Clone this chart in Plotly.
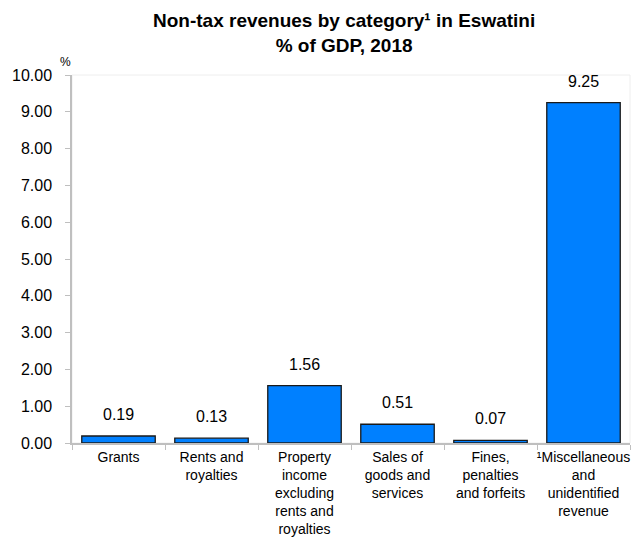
import plotly.graph_objects as go

# Non-tax revenue categories and their share of GDP (%), 2018
categories = [
    "Grants",
    "Rents and<br>royalties",
    "Property<br>income<br>excluding<br>rents and<br>royalties",
    "Sales of<br>goods and<br>services",
    "Fines,<br>penalties<br>and forfeits",
    "¹Miscellaneous<br>and<br>unidentified<br>revenue",
]
values = [0.19, 0.13, 1.56, 0.51, 0.07, 9.25]
y_ticks = [0, 1, 2, 3, 4, 5, 6, 7, 8, 9, 10]

SANS = "Liberation Sans, Arial, sans-serif"

fig = go.Figure(
    go.Bar(
        x=categories,
        y=values,
        marker=dict(color="#0080ff", line=dict(color="#1a1a1a", width=1.3)),
        hoverinfo="skip",
    )
)

# value labels above each bar
for cat, v in zip(categories, values):
    fig.add_annotation(
        x=cat, y=v, text=f"{v:.2f}", showarrow=False,
        yanchor="bottom", yshift=11,
        font=dict(family=SANS, size=16, color="#000000"),
    )

# title (two lines) and unit label
fig.add_annotation(
    xref="paper", yref="paper", x=0.487, y=1.0, yshift=17,
    text="<b>Non-tax revenues by category¹ in Eswatini<br>% of GDP, 2018</b>",
    showarrow=False, xanchor="center", yanchor="bottom",
    font=dict(family=SANS, size=19, color="#000000"),
)
fig.add_annotation(
    xref="paper", yref="paper", x=0, y=1.0, xshift=-7, yshift=4,
    text="%", showarrow=False, xanchor="center", yanchor="bottom",
    font=dict(family=SANS, size=12, color="#000000"),
)

# faint plot-area frame
fig.add_shape(
    type="rect", xref="paper", yref="paper", x0=0, y0=0, x1=1, y1=1,
    line=dict(color="#eeeeee", width=1), layer="below",
)

fig.update_layout(
    width=642, height=546,
    margin=dict(l=72, r=12, t=75, b=103),
    paper_bgcolor="#ffffff", plot_bgcolor="#ffffff",
    bargap=0.21,
    showlegend=False,
    xaxis=dict(
        showline=True, linecolor="#bfbfbf", linewidth=1.5,
        ticks="outside", tickson="boundaries", ticklen=5, tickcolor="#bfbfbf",
        tickangle=0, automargin=False,
        tickfont=dict(family=SANS, size=14, color="#000000"),
        showgrid=False, zeroline=False, fixedrange=True,
    ),
    yaxis=dict(
        range=[0, 10], tickvals=y_ticks, tickformat=".2f",
        showline=True, linecolor="#bfbfbf", linewidth=1.5,
        ticks="outside", ticklen=5, tickcolor="#bfbfbf",
        ticklabelstandoff=10, automargin=False,
        tickfont=dict(family=SANS, size=16, color="#000000"),
        showgrid=False, zeroline=False, fixedrange=True,
    ),
)

fig.write_html("out.html")
